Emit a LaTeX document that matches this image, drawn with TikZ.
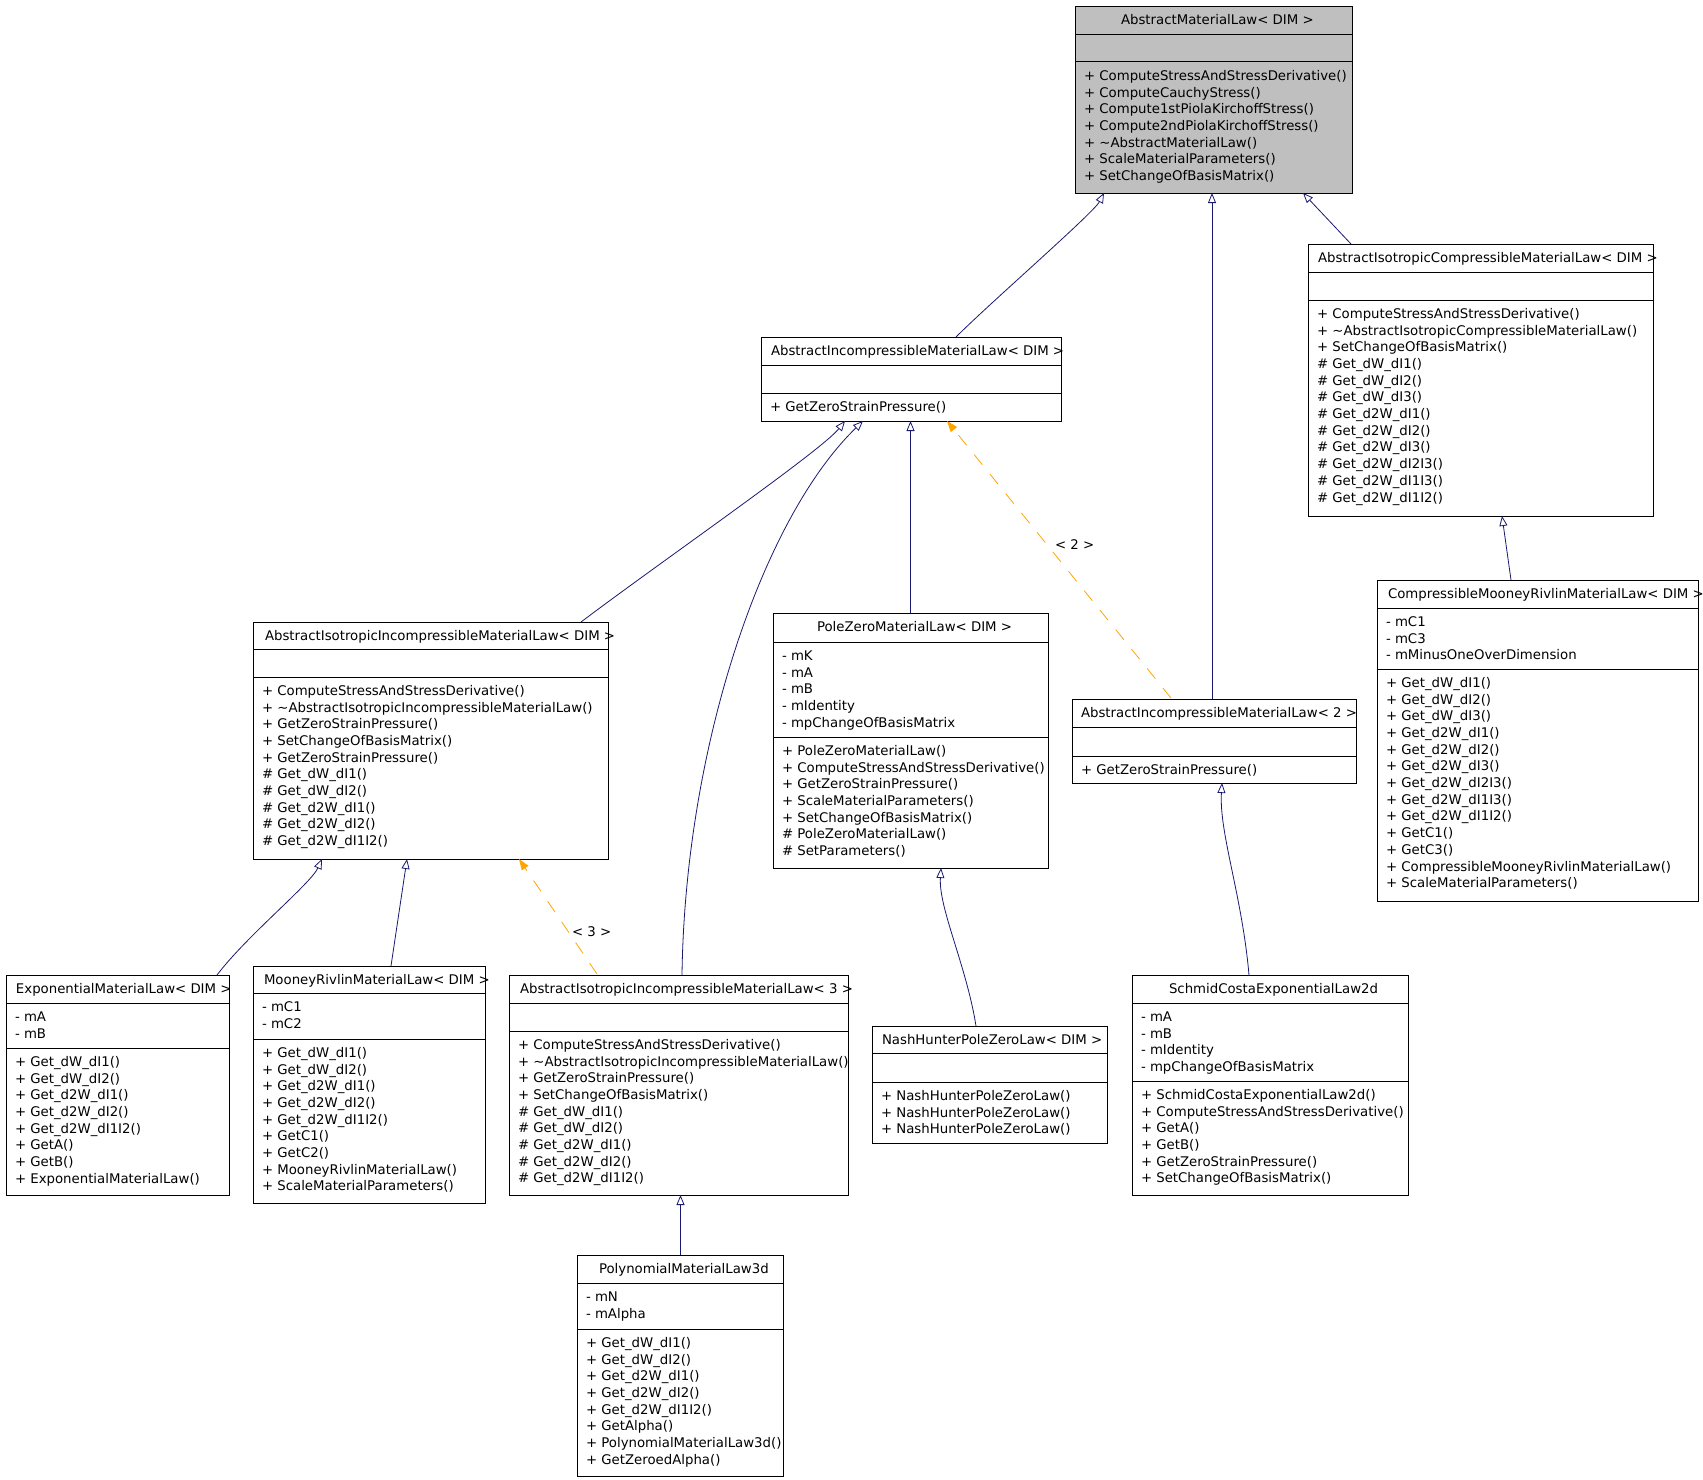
\documentclass[tikz,border=0pt]{standalone}
\usepackage{fontspec}
\setmainfont{DejaVu Sans}
\usetikzlibrary{arrows.meta}
\definecolor{edgeblue}{RGB}{25,25,112}
\definecolor{edgeorange}{RGB}{255,165,0}
\definecolor{headgray}{RGB}{191,191,191}
\def\umlfill{white}
\tikzset{
  umlrect/.style={draw=black, line width=1pt, fill=\umlfill, inner sep=0pt, outer sep=0pt, anchor=north west},
  sepline/.style={draw=black, line width=1pt},
  umltxt/.style={anchor=base west, inner sep=0pt, outer sep=0pt, font=\fontsize{13.3}{16}\selectfont},
  inh/.style={draw=edgeblue, line width=0.8pt, -{Triangle[open, length=10pt, width=8pt]}},
  tmpl/.style={draw=edgeorange, line width=0.8pt, dash pattern=on 13pt off 12pt, -{Triangle[length=11pt, width=8pt, fill=edgeorange]}}
}
% #1 name #2 left #3 top #4 right #5 line1 #6 line2 #7 bottom #8 title x #9 title
\newcommand\umlbox[9]{%
  \node[umlrect, minimum width={(#4)-(#2)}, minimum height={(#7)-(#3)}] (#1) at (#2,#3) {};
  \draw[sepline] (#2,#5) -- (#4,#5);
  \draw[sepline] (#2,#6) -- (#4,#6);
  \node[umltxt] (#1-title) at (#8,#3+18) {#9};
  \coordinate (#1-a) at (#2+9,#5+18.3);
  \coordinate (#1-m) at (#2+9,#6+18.3);
}
\newcommand\umlrows[2]{%
  \foreach \r [count=\i from 0] in {#2} {
    \node[umltxt] (#1\i) at ([yshift={-16.7*\i}]#1) {\r};
  }
}
\begin{document}
\begin{tikzpicture}[x=1pt,y=-1pt]
\useasboundingbox (0,0) rectangle (1703,1480);

% ---------- boxes ----------
\def\umlfill{headgray}
\umlbox{AML}{1075}{7}{1352}{35}{62}{193}{1121}{AbstractMaterialLaw< DIM >}
\def\umlfill{white}
\umlrows{AML-m}{+ ComputeStressAndStressDerivative(), + ComputeCauchyStress(), + Compute1stPiolaKirchoffStress(), + Compute2ndPiolaKirchoffStress(), + \textasciitilde AbstractMaterialLaw(), + ScaleMaterialParameters(), + SetChangeOfBasisMatrix()}

\umlbox{AICM}{1308}{244}{1653}{272}{300}{516}{1318}{AbstractIsotropicCompressibleMaterialLaw< DIM >}
\umlrows{AICM-m}{+ ComputeStressAndStressDerivative(), + \textasciitilde AbstractIsotropicCompressibleMaterialLaw(), + SetChangeOfBasisMatrix(), \# Get\_dW\_dI1(), \# Get\_dW\_dI2(), \# Get\_dW\_dI3(), \# Get\_d2W\_dI1(), \# Get\_d2W\_dI2(), \# Get\_d2W\_dI3(), \# Get\_d2W\_dI2I3(), \# Get\_d2W\_dI1I3(), \# Get\_d2W\_dI1I2()}

\umlbox{AIMLD}{761}{337}{1061}{365}{393}{421}{771}{AbstractIncompressibleMaterialLaw< DIM >}
\umlrows{AIMLD-m}{+ GetZeroStrainPressure()}

\umlbox{AIIMLD}{253}{622}{608}{649}{677}{859}{265}{AbstractIsotropicIncompressibleMaterialLaw< DIM >}
\umlrows{AIIMLD-m}{+ ComputeStressAndStressDerivative(), + \textasciitilde AbstractIsotropicIncompressibleMaterialLaw(), + GetZeroStrainPressure(), + SetChangeOfBasisMatrix(), + GetZeroStrainPressure(), \# Get\_dW\_dI1(), \# Get\_dW\_dI2(), \# Get\_d2W\_dI1(), \# Get\_d2W\_dI2(), \# Get\_d2W\_dI1I2()}

\umlbox{PZ}{773}{613}{1048}{642}{737}{868}{817}{PoleZeroMaterialLaw< DIM >}
\umlrows{PZ-a}{- mK, - mA, - mB, - mIdentity, - mpChangeOfBasisMatrix}
\umlrows{PZ-m}{+ PoleZeroMaterialLaw(), + ComputeStressAndStressDerivative(), + GetZeroStrainPressure(), + ScaleMaterialParameters(), + SetChangeOfBasisMatrix(), \# PoleZeroMaterialLaw(), \# SetParameters()}

\umlbox{AIML2}{1072}{699}{1356}{727}{756}{783}{1081}{AbstractIncompressibleMaterialLaw< 2 >}
\umlrows{AIML2-m}{+ GetZeroStrainPressure()}

\umlbox{CMR}{1377}{580}{1698}{608}{669}{901}{1388}{CompressibleMooneyRivlinMaterialLaw< DIM >}
\umlrows{CMR-a}{- mC1, - mC3, - mMinusOneOverDimension}
\umlrows{CMR-m}{+ Get\_dW\_dI1(), + Get\_dW\_dI2(), + Get\_dW\_dI3(), + Get\_d2W\_dI1(), + Get\_d2W\_dI2(), + Get\_d2W\_dI3(), + Get\_d2W\_dI2I3(), + Get\_d2W\_dI1I3(), + Get\_d2W\_dI1I2(), + GetC1(), + GetC3(), + CompressibleMooneyRivlinMaterialLaw(), + ScaleMaterialParameters()}

\umlbox{EXP}{6}{975}{229}{1003}{1048}{1195}{16}{ExponentialMaterialLaw< DIM >}
\umlrows{EXP-a}{- mA, - mB}
\umlrows{EXP-m}{+ Get\_dW\_dI1(), + Get\_dW\_dI2(), + Get\_d2W\_dI1(), + Get\_d2W\_dI2(), + Get\_d2W\_dI1I2(), + GetA(), + GetB(), + ExponentialMaterialLaw()}

\umlbox{MR}{253}{966}{485}{993}{1039}{1203}{264}{MooneyRivlinMaterialLaw< DIM >}
\umlrows{MR-a}{- mC1, - mC2}
\umlrows{MR-m}{+ Get\_dW\_dI1(), + Get\_dW\_dI2(), + Get\_d2W\_dI1(), + Get\_d2W\_dI2(), + Get\_d2W\_dI1I2(), + GetC1(), + GetC2(), + MooneyRivlinMaterialLaw(), + ScaleMaterialParameters()}

\umlbox{AIIML3}{509}{975}{848}{1003}{1031}{1195}{520}{AbstractIsotropicIncompressibleMaterialLaw< 3 >}
\umlrows{AIIML3-m}{+ ComputeStressAndStressDerivative(), + \textasciitilde AbstractIsotropicIncompressibleMaterialLaw(), + GetZeroStrainPressure(), + SetChangeOfBasisMatrix(), \# Get\_dW\_dI1(), \# Get\_dW\_dI2(), \# Get\_d2W\_dI1(), \# Get\_d2W\_dI2(), \# Get\_d2W\_dI1I2()}

\umlbox{NH}{872}{1026}{1107}{1053}{1082}{1143}{882}{NashHunterPoleZeroLaw< DIM >}
\umlrows{NH-m}{+ NashHunterPoleZeroLaw(), + NashHunterPoleZeroLaw(), + NashHunterPoleZeroLaw()}

\umlbox{SC}{1132}{975}{1408}{1003}{1081}{1195}{1169}{SchmidCostaExponentialLaw2d}
\umlrows{SC-a}{- mA, - mB, - mIdentity, - mpChangeOfBasisMatrix}
\umlrows{SC-m}{+ SchmidCostaExponentialLaw2d(), + ComputeStressAndStressDerivative(), + GetA(), + GetB(), + GetZeroStrainPressure(), + SetChangeOfBasisMatrix()}

\umlbox{POLY}{577}{1255}{783}{1283}{1329}{1476}{599}{PolynomialMaterialLaw3d}
\umlrows{POLY-a}{- mN, - mAlpha}
\umlrows{POLY-m}{+ Get\_dW\_dI1(), + Get\_dW\_dI2(), + Get\_d2W\_dI1(), + Get\_d2W\_dI2(), + Get\_d2W\_dI1I2(), + GetAlpha(), + PolynomialMaterialLaw3d(), + GetZeroedAlpha()}

% ---------- connectors ----------
\draw[inh] ([xshift=45pt]AIMLD.north) .. controls ([xshift=80pt,yshift=35pt]AIMLD.north) and ([xshift=-120pt,yshift=-20pt]AML.south) .. ([xshift=-109.5pt]AML.south);
\draw[inh] ([xshift=-2pt]AIML2.north) -- ([xshift=-2pt]AIML2.north |- AML.south);
\draw[inh] ([xshift=-129.5pt]AICM.north) -- ([xshift=89.5pt]AML.south);

\draw[inh] ([xshift=150.5pt]AIIMLD.north) .. controls ([xshift=230pt,yshift=60pt]AIIMLD.north) and ([xshift=-90pt,yshift=-30pt]AIMLD.south) .. ([xshift=-66pt]AIMLD.south);
\draw[inh] ([xshift=3.5pt]AIIML3.north) .. controls ([xshift=6.5pt,yshift=225pt]AIIML3.north) and ([xshift=-150pt,yshift=-99pt]AIMLD.south) .. ([xshift=-48pt]AIMLD.south);
\draw[inh] (PZ.north) -- (PZ.north |- AIMLD.south);
\draw[tmpl] ([xshift=-43pt,yshift=1pt]AIML2.north) -- ([xshift=36pt]AIMLD.south);
\node[umltxt] (lbl2) at (1055,549) {< 2 >};

\draw[inh] ([xshift=-26.5pt]CMR.north) -- ([xshift=21.5pt]AICM.south);

\draw[inh] ([xshift=99.5pt]EXP.north) .. controls ([xshift=130pt,yshift=40pt]EXP.north) and ([xshift=-120pt,yshift=-25pt]AIIMLD.south) .. ([xshift=-108.5pt]AIIMLD.south);
\draw[inh] ([xshift=22pt]MR.north) -- ([xshift=-23.5pt]AIIMLD.south);
\draw[tmpl] ([xshift=-81.5pt,yshift=1pt]AIIML3.north) -- ([xshift=88.5pt]AIIMLD.south);
\node[umltxt] (lbl3) at (572,936) {< 3 >};

\draw[inh] ([xshift=0.5pt]POLY.north) -- ([xshift=0.5pt]POLY.north |- AIIML3.south);
\draw[inh] ([xshift=-13.5pt]NH.north) .. controls ([xshift=-23pt,yshift=60pt]NH.north) and ([xshift=28pt,yshift=-40pt]PZ.south) .. ([xshift=30.5pt]PZ.south);
\draw[inh] ([xshift=-21pt]SC.north) .. controls ([xshift=-28pt,yshift=80pt]SC.north) and ([xshift=5pt,yshift=-50pt]AIML2.south) .. ([xshift=8pt]AIML2.south);
\end{tikzpicture}
\end{document}
